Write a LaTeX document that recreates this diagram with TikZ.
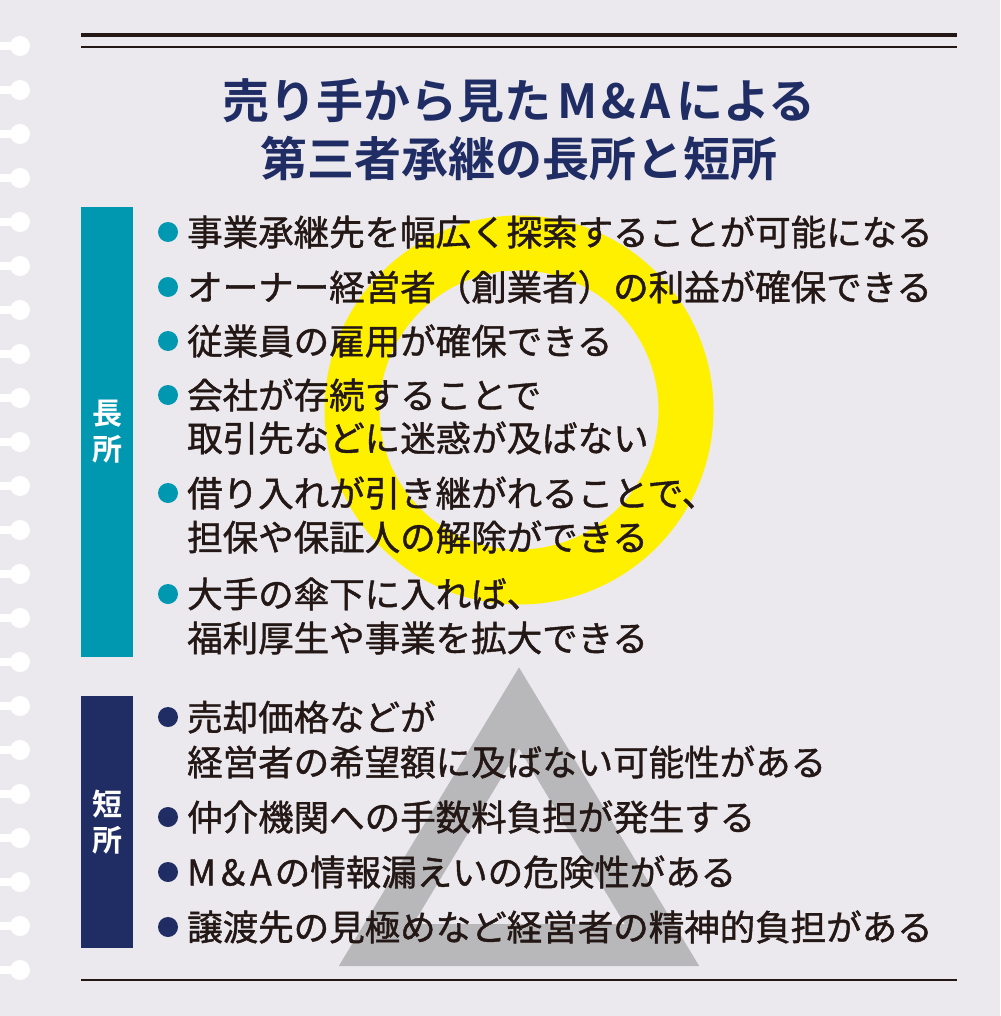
\documentclass[tikz,border=0pt]{standalone}
\usepackage{fontspec}
\setmainfont{Noto Sans CJK JP}[FakeBold=1.2]
\newfontfamily\jpb{Noto Sans CJK JP Bold}
\definecolor{bg}{HTML}{EBE9EE}
\definecolor{navy}{HTML}{1F2D64}
\definecolor{teal}{HTML}{0098B0}
\definecolor{ylw}{HTML}{FFF000}
\definecolor{gry}{HTML}{B8B8BA}
\definecolor{ink}{HTML}{231815}
\begin{document}
\begin{tikzpicture}[x=1pt,y=-1pt,
  item/.style={anchor=west,inner sep=0pt,font=\fontsize{35.5}{44}\selectfont,text=ink,align=left},
  lbl/.style={font=\jpb\fontsize{30}{36}\selectfont,text=white,align=center}]
\fill[bg] (0,0) rectangle (1000,1016);
\useasboundingbox (0,0) rectangle (1000,1016);
\foreach \i in {0,...,21}{
  \fill[white] (0,46+44*\i-4) rectangle (20,46+44*\i+4);
  \fill[white] (20,46+44*\i) circle (10);
}
\draw[ink,line width=4] (81,35) -- (957,35);
\draw[ink,line width=2] (81,47) -- (957,47);
\draw[ink,line width=2.5] (81,980) -- (957,980);
% decorations
\draw[ylw,line width=55] (519,410) circle (167);
\draw[gry,line width=42,line join=miter] (519,708) -- (376,945) -- (662,945) -- cycle;
\node[font=\jpb\fontsize{47}{58}\selectfont,text=navy,align=center] (title) at (519,130) {売り手から見た\hspace{6pt}M\hspace{4pt}\&\hspace{4pt}A\hspace{6pt}による\\第三者承継の長所と短所};
\fill[teal] (81,207) rectangle (133,657);
\node[lbl] (pro) at (107,432) {長\\所};
\fill[navy] (81,696) rectangle (133,948);
\node[lbl] (con) at (107,822) {短\\所};
\foreach \y in {232,287,341,395,493,594} \fill[teal] (168,\y) circle (10);
\foreach \y in {717,817,872,927} \fill[navy] (168,\y) circle (10);
\node[item] (a1) at (187,232) {事業承継先を幅広く探索することが可能になる};
\node[item] (a2) at (187,287) {オーナー経営者（創業者）の利益が確保できる};
\node[item] (a3) at (187,341) {従業員の雇用が確保できる};
\node[item] (a4) at (187,395) {会社が存続することで};
\node[item] (a4b) at (187,438) {取引先などに迷惑が及ばない};
\node[item] (a5) at (187,493) {借り入れが引き継がれることで、};
\node[item] (a5b) at (187,537) {担保や保証人の解除ができる};
\node[item] (a6) at (187,594) {大手の傘下に入れば、};
\node[item] (a6b) at (187,638) {福利厚生や事業を拡大できる};
\node[item] (b1) at (187,717) {売却価格などが};
\node[item] (b1b) at (187,762) {経営者の希望額に及ばない可能性がある};
\node[item] (b2) at (187,817) {仲介機関への手数料負担が発生する};
\node[item] (b3) at (187,872) {M\hspace{5pt}\&\hspace{5pt}A\hspace{3pt}の情報漏えいの危険性がある};
\node[item] (b4) at (187,927) {譲渡先の見極めなど経営者の精神的負担がある};
\end{tikzpicture}
\end{document}
